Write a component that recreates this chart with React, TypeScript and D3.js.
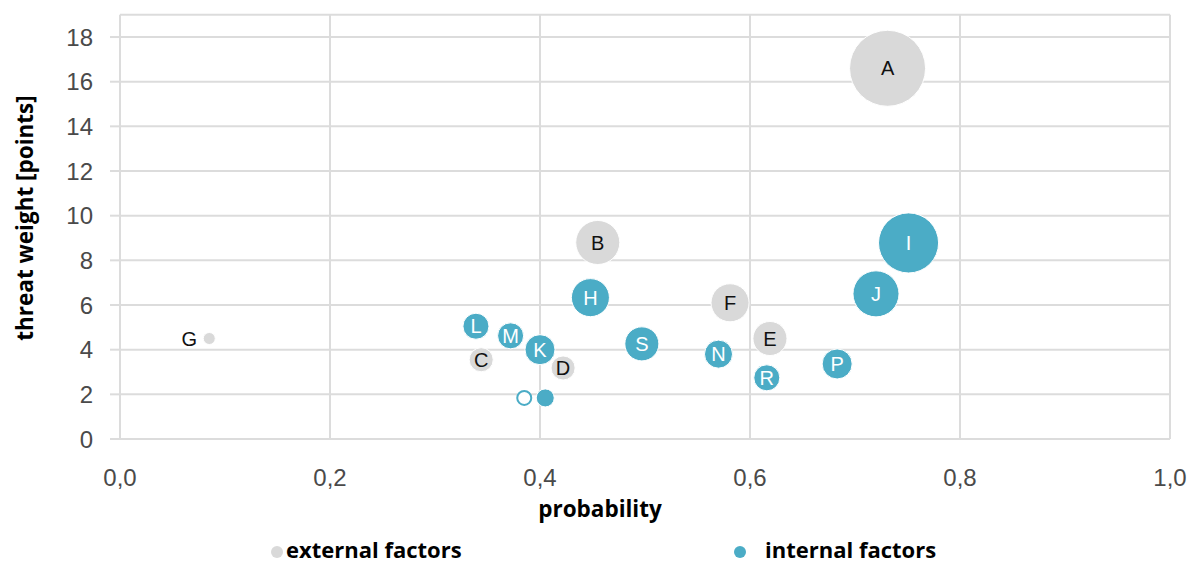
import React from "react";
import * as d3 from "d3";

const labels = ["A", "B", "C", "D", "E", "F", "G", "H", "I", "J", "K", "L", "M", "N", "O", "P", "R", "S", ""];
const groups = ["ext", "ext", "ext", "ext", "ext", "ext", "ext", "int", "int", "int", "int", "int", "int", "int", "intO", "int", "int", "int", "int"];
const probability = [0.731, 0.455, 0.344, 0.422, 0.619, 0.581, 0.085, 0.448, 0.751, 0.72, 0.4, 0.339, 0.372, 0.57, 0.385, 0.683, 0.616, 0.497, 0.405];
const weight = [16.6, 8.8, 3.55, 3.18, 4.5, 6.1, 4.5, 6.33, 8.78, 6.5, 4.0, 5.05, 4.62, 3.8, 1.84, 3.36, 2.74, 4.26, 1.84];
const sizes = [14.4, 4.84, 1.44, 1.44, 2.89, 3.61, 0.36, 3.61, 9, 5.29, 2.25, 1.69, 1.69, 1.96, 0.49, 2.25, 1.69, 2.89, 0.81];
const xTicks = [0, 0.2, 0.4, 0.6, 0.8, 1.0];
const yTicks = [0, 2, 4, 6, 8, 10, 12, 14, 16, 18];
const legendItems = ["external factors", "internal factors"];

const GRAY = "#d9d9d9";
const BLUE = "#4bacc6";

export default function App() {
  const W = 1189, H = 565;
  const x = d3.scaleLinear().domain([0, 1]).range([120, 1170]);
  const y = d3.scaleLinear().domain([0, 19]).range([439, 14.7]);
  const r = d3.scaleSqrt().domain([0, 14.4]).range([0, 38]);
  const fmt = (v: number) => d3.format(".1f")(v).replace(".", ",");
  const tickFont = "'Liberation Sans', Arial, sans-serif";
  const titleFont = "'Open Sans', sans-serif";
  const order = d3.range(labels.length).sort((a, b) => sizes[b] - sizes[a]);
  return (
    <svg width={W} height={H} style={{ position: "absolute", left: 0, top: 0, background: "#fff" }}>
      <rect x={0} y={0} width={W} height={H} fill="#fff" />
      {yTicks.map((t) => (
        <line key={"gy" + t} x1={x(0)} x2={x(1)} y1={y(t)} y2={y(t)} stroke="#dcdcdc" strokeWidth={2} />
      ))}
      <line x1={x(0)} x2={x(1)} y1={y(19)} y2={y(19)} stroke="#dcdcdc" strokeWidth={2} />
      {xTicks.map((t) => (
        <line key={"gx" + t} x1={x(t)} x2={x(t)} y1={y(19)} y2={y(0)} stroke="#dcdcdc" strokeWidth={2} />
      ))}
      {yTicks.map((t) => (
        <g key={"ty" + t}>
          <line x1={x(0) - 10} x2={x(0)} y1={y(t)} y2={y(t)} stroke="#dcdcdc" strokeWidth={2} />
          <text x={93} y={y(t)} dy="0.36em" textAnchor="end" fontFamily={tickFont} fontSize={24} fill="#4a4a4a">{t}</text>
        </g>
      ))}
      {xTicks.map((t) => (
        <text key={"tx" + t} x={x(t)} y={486} textAnchor="middle" fontFamily={tickFont} fontSize={24} fill="#4a4a4a">{fmt(t)}</text>
      ))}
      {order.map((i) => {
        const cx = x(probability[i]);
        const cy = y(weight[i]);
        const rr = r(sizes[i]);
        const g = groups[i];
        const fill = g === "ext" ? GRAY : g === "intO" ? "#fff" : BLUE;
        const stroke = g === "intO" ? BLUE : "#fff";
        const isG = labels[i] === "G";
        return (
          <g key={"b" + i}>
            <circle cx={cx} cy={cy} r={rr} fill={fill} stroke={stroke} strokeWidth={g === "intO" ? 2 : 1} />
            {labels[i] && labels[i] !== "O" && (
              <text x={isG ? cx - 20 : cx} y={cy} dy="0.36em" textAnchor="middle" fontFamily={tickFont} fontSize={20}
                fill={g === "ext" ? "#111" : "#fff"}>{labels[i]}</text>
            )}
          </g>
        );
      })}
      <text x={600} y={517} textAnchor="middle" fontFamily={titleFont} fontWeight={700} fontSize={22.5} fill="#000">probability</text>
      <text transform={`translate(33,218) rotate(-90)`} textAnchor="middle" fontFamily={titleFont} fontWeight={700} fontSize={22.5} fill="#000">threat weight [points]</text>
      <circle cx={277} cy={552} r={6} fill={GRAY} />
      <text x={286} y={558} fontFamily={titleFont} fontWeight={700} fontSize={22} fill="#000">{legendItems[0]}</text>
      <circle cx={740} cy={552} r={6} fill={BLUE} />
      <text x={765} y={558} fontFamily={titleFont} fontWeight={700} fontSize={22} fill="#000">{legendItems[1]}</text>
    </svg>
  );
}
